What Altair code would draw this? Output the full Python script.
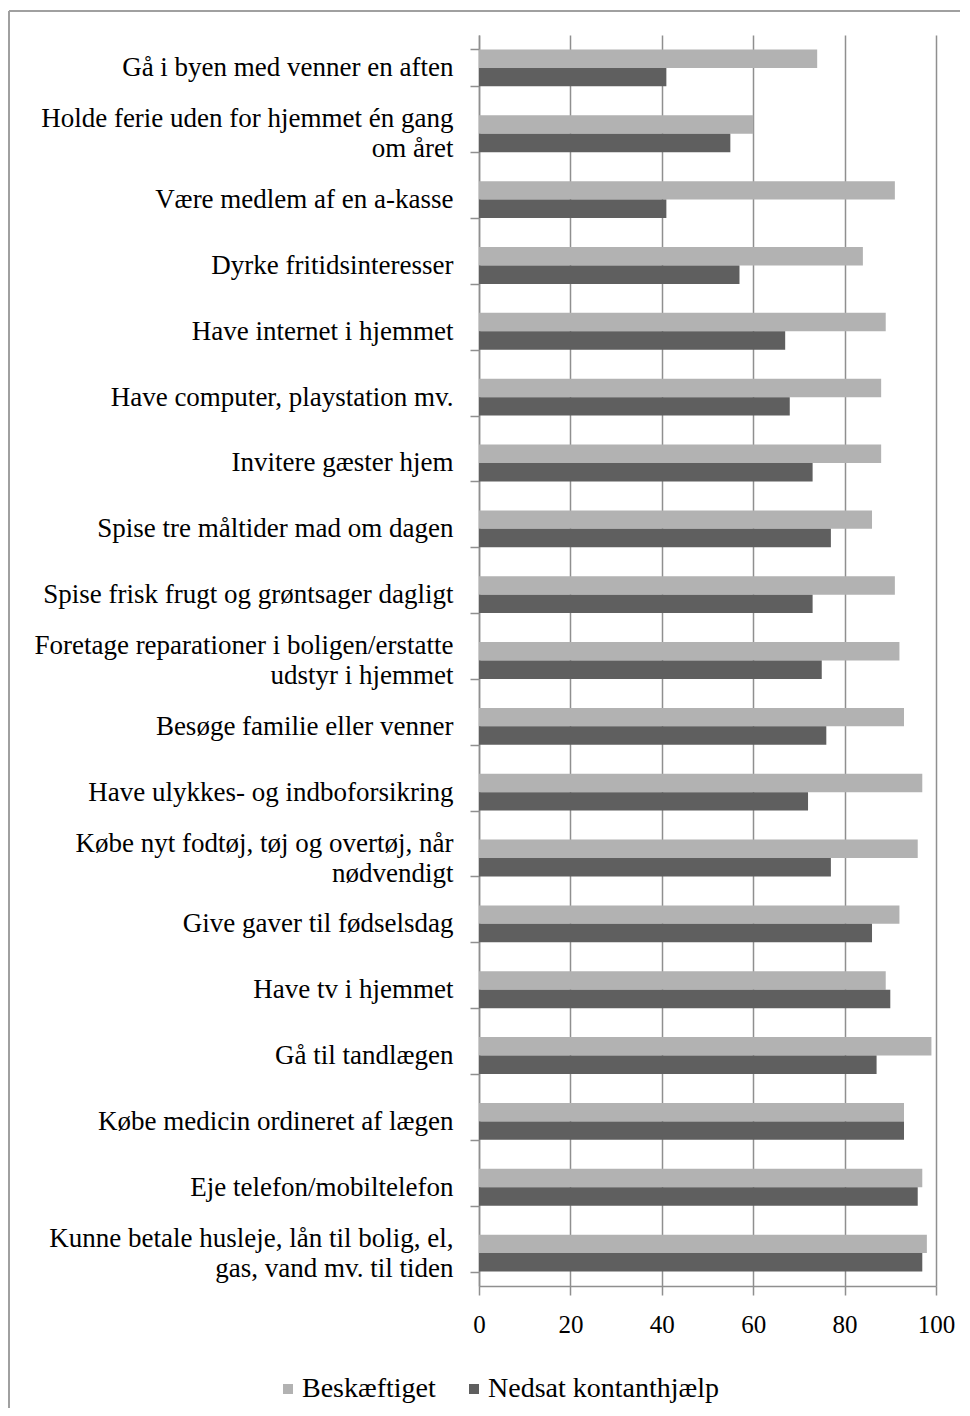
import altair as alt
import pandas as pd

categories = [
    "Gå i byen med venner en aften",
    "Holde ferie uden for hjemmet  én gang|om året",
    "Være medlem af en a-kasse",
    "Dyrke fritidsinteresser",
    "Have internet i hjemmet",
    "Have computer, playstation mv.",
    "Invitere gæster hjem",
    "Spise tre måltider mad om dagen",
    "Spise frisk frugt og grøntsager dagligt",
    "Foretage reparationer i boligen/erstatte|udstyr i hjemmet",
    "Besøge familie eller venner",
    "Have ulykkes- og indboforsikring",
    "Købe nyt fodtøj, tøj og overtøj, når|nødvendigt",
    "Give gaver til fødselsdag",
    "Have tv i hjemmet",
    "Gå til tandlægen",
    "Købe medicin ordineret af lægen",
    "Eje telefon/mobiltelefon",
    "Kunne betale husleje, lån til bolig, el,|gas, vand mv. til tiden",
]
beskaeftiget = [74, 60, 91, 84, 89, 88, 88, 86, 91, 92, 93, 97, 96, 92, 89, 99, 93, 97, 98]
nedsat = [41, 55, 41, 57, 67, 68, 73, 77, 73, 75, 76, 72, 77, 86, 90, 87, 93, 96, 97]
series = ["Beskæftiget", "Nedsat kontanthjælp"]
colors = ["#b2b2b2", "#5f5f5f"]
x_ticks = [0, 20, 40, 60, 80, 100]

rows = []
for c, a, b in zip(categories, beskaeftiget, nedsat):
    rows.append({"kategori": c, "serie": series[0], "vaerdi": a})
    rows.append({"kategori": c, "serie": series[1], "vaerdi": b})
df = pd.DataFrame(rows)

FONT = "Liberation Serif"
AX = "#8f8f8f"
W, H = 457, 1251

bars = alt.Chart(df).mark_bar().encode(
    y=alt.Y(
        "kategori:N",
        sort=categories,
        scale=alt.Scale(paddingInner=0.44, paddingOuter=0.22),
        axis=alt.Axis(
            title=None,
            labelExpr="split(datum.label, '|')",
            labelFont=FONT,
            labelFontSize=27,
            labelLineHeight=30,
            labelColor="#000000",
            labelPadding=17,
            labelLimit=0,
            labelOffset={"condition": {"test": "indexof(datum.label, '|') >= 0", "value": -15}, "value": 0},
            tickSize=9,
            tickBand="extent",
            tickColor=AX,
            tickWidth=1.5,
            domainColor=AX,
            domainWidth=1.5,
            grid=False,
        ),
    ),
    x=alt.X(
        "vaerdi:Q",
        scale=alt.Scale(domain=[0, 100]),
        axis=alt.Axis(
            title=None,
            values=x_ticks,
            grid=True,
            gridColor=AX,
            gridWidth=1.5,
            labelFont=FONT,
            labelFontSize=25,
            labelColor="#000000",
            labelPadding=17,
            labelFlush=False,
            tickSize=9,
            tickColor=AX,
            tickWidth=1.5,
            domainColor=AX,
            domainWidth=1.5,
        ),
    ),
    yOffset=alt.YOffset("serie:N", sort=series, scale=alt.Scale(paddingInner=0, paddingOuter=0)),
    color=alt.Color(
        "serie:N",
        sort=series,
        scale=alt.Scale(domain=series, range=colors),
        legend=alt.Legend(
            title=None,
            orient="none",
            direction="horizontal",
            legendX=-205,
            legendY=1340,
            symbolType="square",
            symbolSize=100,
            symbolStrokeWidth=0,
            labelFont=FONT,
            labelFontSize=28,
            labelColor="#000000",
            labelOffset=0,
            labelLimit=0,
            columnPadding=24,
        ),
    ),
)

frame = pd.DataFrame({"k": [0]})
top_line = alt.Chart(frame).mark_rule(color="#a0a0a0", strokeWidth=2).encode(
    x=alt.value(-470), x2=alt.value(W + 60), y=alt.value(-24)
)
left_line = alt.Chart(frame).mark_rule(color="#a0a0a0", strokeWidth=2).encode(
    x=alt.value(-470), y=alt.value(-24), y2=alt.value(H + 200)
)

chart = (
    alt.layer(bars, top_line, left_line)
    .properties(
        width=W,
        height=H,
        padding={"left": 471, "top": 27, "right": 24, "bottom": 122},
        autosize=alt.AutoSizeParams(type="none"),
    )
    .configure_view(stroke=None)
)

chart.save("out.html", embed_options={"renderer": "svg", "actions": False})
